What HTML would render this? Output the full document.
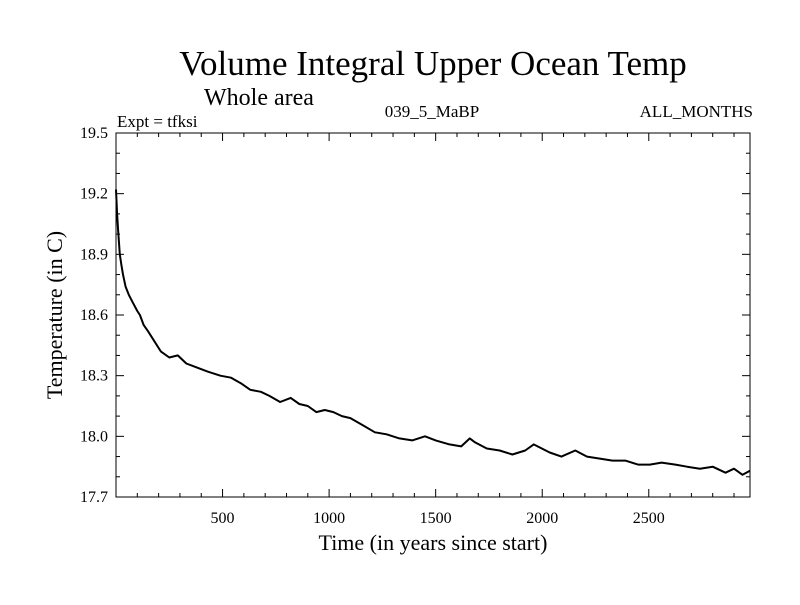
<!DOCTYPE html>
<html><head><meta charset="utf-8"><style>
body{margin:0;background:#fff}
svg text{font-family:"Liberation Serif",serif;fill:#000}
</style></head><body>
<svg width="800" height="600">
<rect width="800" height="600" fill="#fff"/>
<text x="433" y="75" font-size="35" text-anchor="middle">Volume Integral Upper Ocean Temp</text>
<text x="204" y="105" font-size="24">Whole area</text>
<text x="117" y="127" font-size="17">Expt = tfksi</text>
<text x="432" y="117" font-size="17" text-anchor="middle">039_5_MaBP</text>
<text x="753" y="117" font-size="17" text-anchor="end">ALL_MONTHS</text>
<g id="axes"></g>
<path id="line" fill="none" stroke="#000" stroke-width="2" stroke-linejoin="round"/>
<text x="433" y="550" font-size="22" text-anchor="middle">Time (in years since start)</text>
<text transform="translate(62,315) rotate(-90)" font-size="22" text-anchor="middle">Temperature (in C)</text>
</svg>
<script>
const years=[0,5,10,18,25,33,45,60,80,100,112,130,150,180,210,250,290,330,380,430,490,540,590,630,680,720,770,820,860,900,940,980,1020,1060,1100,1150,1215,1270,1330,1390,1450,1500,1565,1620,1660,1685,1740,1800,1860,1920,1960,2035,2090,2155,2210,2270,2330,2390,2450,2505,2560,2625,2680,2740,2800,2860,2900,2940,2975];
const temps=[19.22,19.1,19.02,18.9,18.85,18.8,18.74,18.7,18.66,18.62,18.6,18.55,18.52,18.47,18.42,18.39,18.4,18.36,18.34,18.32,18.3,18.29,18.26,18.23,18.22,18.2,18.17,18.19,18.16,18.15,18.12,18.13,18.12,18.1,18.09,18.06,18.02,18.01,17.99,17.98,18.0,17.98,17.96,17.95,17.99,17.97,17.94,17.93,17.91,17.93,17.96,17.92,17.9,17.93,17.9,17.89,17.88,17.88,17.86,17.86,17.87,17.86,17.85,17.84,17.85,17.82,17.84,17.81,17.83];
const yTicks=["17.7","18.0","18.3","18.6","18.9","19.2","19.5"];
const xTicks=[500,1000,1500,2000,2500];
const L=116,R=750,T=133,B=497,X0=0,X1=2975,Y0=17.7,Y1=19.5;
const sx=v=>L+(v-X0)/(X1-X0)*(R-L), sy=v=>B-(v-Y0)/(Y1-Y0)*(B-T);
const ns="http://www.w3.org/2000/svg",g=document.getElementById('axes');
function mk(t,a){const e=document.createElementNS(ns,t);for(const k in a)e.setAttribute(k,a[k]);g.appendChild(e);return e;}
const fr=mk('rect',{x:L,y:T,width:R-L,height:B-T,fill:'none',stroke:'#000','stroke-width':1});


for(let v=100;v<X1;v+=100){const maj=v%500===0,len=maj?8:4;
mk('line',{x1:sx(v),x2:sx(v),y1:B,y2:B-len,stroke:'#000'});
mk('line',{x1:sx(v),x2:sx(v),y1:T,y2:T+len,stroke:'#000'});}
for(let i=0;i<=18;i++){const v=Y0+i*0.1,maj=i%3===0,len=maj?8:4;
mk('line',{x1:L,x2:L+len,y1:sy(v),y2:sy(v),stroke:'#000'});
mk('line',{x1:R,x2:R-len,y1:sy(v),y2:sy(v),stroke:'#000'});}
xTicks.forEach(v=>{const t=mk('text',{x:sx(v),y:B+26,'font-size':16,'text-anchor':'middle'});t.textContent=v;

});
yTicks.forEach(s=>{const t=mk('text',{x:108,y:sy(+s)+5,'font-size':16,'text-anchor':'end'});t.textContent=s;

});
document.getElementById('line').setAttribute('d',years.map((y,i)=>(i?'L':'M')+sx(y).toFixed(1)+','+sy(temps[i]).toFixed(1)).join(''));
</script>
</body></html>
